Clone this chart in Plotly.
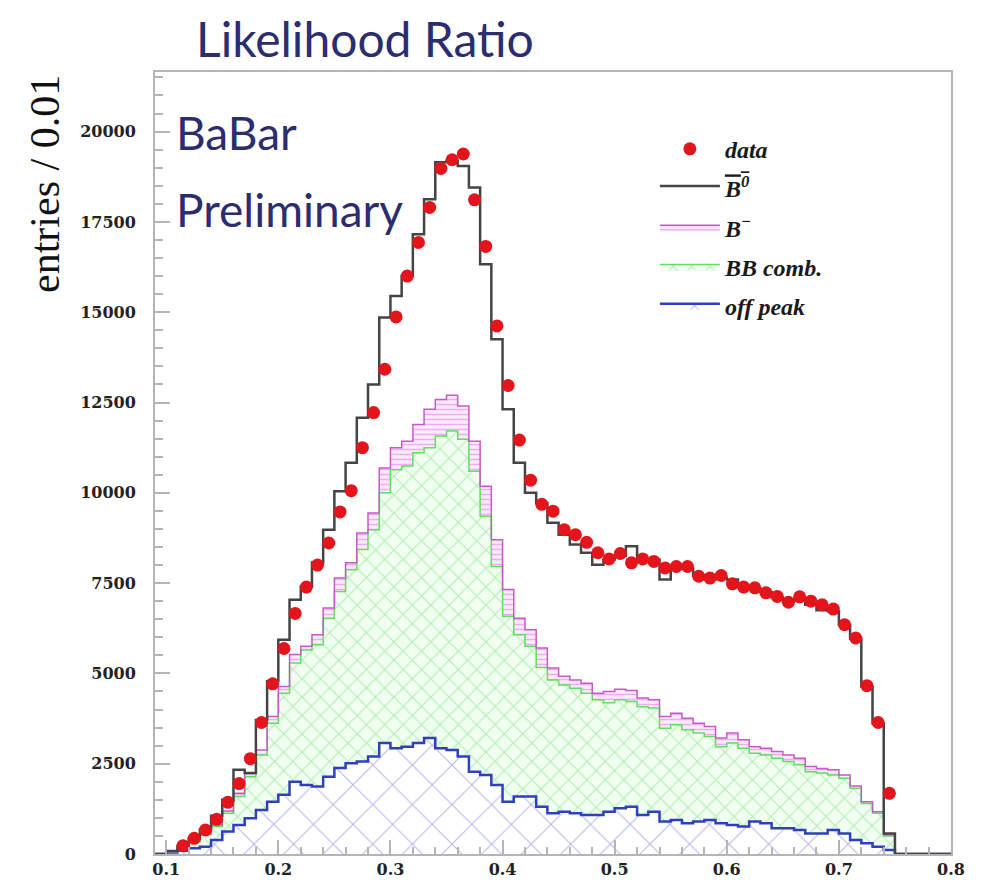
import numpy as np
import plotly.graph_objects as go

# Histogram binning: 0.01 wide bins, filled range 0.10 - 0.75
bin_low = np.round(np.arange(0.10, 0.7501, 0.01)[:65], 2)

# Stacked MC components (cumulative top of each layer, entries per bin)
off_peak = [40, 90, 160, 200, 390, 620, 800, 990, 1220, 1450,
            1640, 2000, 1910, 1870, 2140, 2380, 2510, 2560, 2700, 3070,
            2930, 2970, 3070, 3210, 2930, 2880, 2700, 2280, 2190, 1910,
            1450, 1590, 1590, 1310, 1130, 1170, 1130, 1080, 1080, 1170,
            1270, 1310, 1080, 1170, 900, 940, 850, 900, 940, 850,
            800, 760, 900, 850, 710, 710, 665, 570, 570, 665,
            570, 390, 300, 200, 110]

bb_comb_top = [60, 160, 340, 530, 760, 1130, 1590, 2140, 2740, 3620,
               4450, 5290, 5650, 5790, 6530, 7270, 7870, 8430, 8980, 10000,
               10640, 10740, 11110, 11250, 11570, 11710, 11480, 10600, 9350, 7960,
               6580, 6070, 5750, 5160, 4820, 4680, 4590, 4450, 4270, 4190,
               4270, 4220, 4080, 4040, 3480, 3580, 3440, 3350, 3250, 2970,
               3070, 2930, 2790, 2740, 2650, 2560, 2470, 2280, 2240, 2190,
               2100, 1820, 1400, 1130, 500]

b_minus_top = [60, 170, 360, 560, 800, 1190, 1680, 2240, 2880, 3810,
               4640, 5520, 5750, 6070, 6810, 7640, 8060, 8890, 9440, 10690,
               11250, 11430, 11890, 12310, 12580, 12700, 12400, 11430, 10180, 8700,
               7320, 6530, 6210, 5700, 5150, 4920, 4820, 4730, 4450, 4500,
               4560, 4530, 4320, 4270, 3810, 3900, 3760, 3620, 3530, 3210,
               3350, 3160, 2970, 2930, 2840, 2740, 2650, 2420, 2370, 2330,
               2190, 1880, 1450, 1170, 530]

b0bar_top = [80, 220, 420, 680, 1060, 1500, 2330, 2240, 3710, 4780,
             5930, 7040, 7400, 8070, 8980, 10040, 10830, 12080, 13000, 14850,
             15450, 16000, 17160, 18130, 19150, 19190, 19050, 18450, 16330, 14250,
             12310, 10830, 10000, 9720, 9170, 8840, 8570, 8340, 8010, 8150,
             8250, 8520, 8100, 8150, 7600, 7950, 7900, 7700, 7600, 7650,
             7600, 7400, 7350, 7250, 7100, 7000, 7050, 6900, 6750, 6720,
             6350, 5960, 4640, 3620, 570]

# Data: bin centres 0.115 ... 0.745
data_y = [230, 435, 665, 960, 1430, 1950, 2640, 3640, 4710,
          5690, 6660, 7390, 8000, 8610, 9470, 10060, 11250, 12220, 13420,
          14870, 16000, 16930, 17900, 18980, 19220, 19380, 18110, 16820, 14620,
          12970, 11460, 10350, 9680, 9490, 8980, 8840, 8630, 8340, 8170,
          8320, 8060, 8170, 8100, 7920, 7960, 7960, 7690, 7640, 7710,
          7480, 7390, 7370, 7230, 7130, 6970, 7120, 7000, 6900, 6780,
          6350, 5980, 4660, 3640, 1680]
data_x = np.round(bin_low[1:] + 0.005, 3)

x_ticks = [0.1, 0.2, 0.3, 0.4, 0.5, 0.6, 0.7, 0.8]
y_ticks = [0, 2500, 5000, 7500, 10000, 12500, 15000, 17500, 20000]
y_tick_text = [str(v) for v in y_ticks]

# Step outline: empty bin below 0.10, empty bins from 0.75 to 0.80
step_x = [0.09] + list(bin_low) + [0.75, 0.80]


def steps(vals):
    return [0] + list(vals) + [0, 0]


serif = "Liberation Serif"
hand = "Lato"
ink = "#2b2d6e"

fig = go.Figure()

fig.add_trace(go.Scatter(
    x=step_x, y=steps(off_peak), mode="lines", line_shape="hv",
    line=dict(color="#2f3fbf", width=2.5),
    fill="tozeroy", fillcolor="white",
    fillpattern=dict(shape="x", size=28, solidity=0.07,
                     fgcolor="#6a6dd2", bgcolor="white"),
    name="<b><i>off peak</i></b>", legendrank=5, legendgroup="e",
))
fig.add_trace(go.Scatter(
    x=step_x, y=steps(bb_comb_top), mode="lines", line_shape="hv",
    line=dict(color="#5fe05f", width=1.5),
    fill="tonexty", fillcolor="#f0fff0",
    fillpattern=dict(shape="x", size=13, solidity=0.16,
                     fgcolor="#72d872", bgcolor="#f1fff1"),
    name="<b><i>BB comb.</i></b>", legendrank=4, legendgroup="d",
))
fig.add_trace(go.Scatter(
    x=step_x, y=steps(b_minus_top), mode="lines", line_shape="hv",
    line=dict(color="#c55ac8", width=1.5),
    fill="tonexty", fillcolor="#fbe6fb",
    fillpattern=dict(shape="-", size=5, solidity=0.3,
                     fgcolor="#e070e6", bgcolor="#fcebfc"),
    name="<b><i>B<sup>\u2212</sup></i></b>", legendrank=3, legendgroup="c",
))
fig.add_trace(go.Scatter(
    x=step_x, y=steps(b0bar_top), mode="lines", line_shape="hv",
    line=dict(color="#444444", width=2.5),
    fill="tonexty", fillcolor="rgba(255,255,255,0)",
    name="<b><i><span style='text-decoration:overline'>B<sup>0</sup></span></i></b>",
    legendrank=2, legendgroup="b",
))
fig.add_trace(go.Scatter(
    x=data_x, y=data_y, mode="markers",
    marker=dict(color="#e3141b", size=13, symbol="circle"),
    name="<b><i>data</i></b>", legendrank=1, legendgroup="a",
))

fig.add_annotation(text="entries / 0.01", textangle=-90, showarrow=False,
                   xref="paper", yref="paper", x=-0.138, y=0.857,
                   xanchor="center", yanchor="middle",
                   font=dict(family=serif, size=42, color="#111"))
fig.add_annotation(text="BaBar", showarrow=False, xref="paper", yref="paper",
                   x=0.024, y=0.922, xanchor="left", yanchor="middle",
                   font=dict(family=hand, size=46, color=ink))
fig.add_annotation(text="Preliminary", showarrow=False, xref="paper", yref="paper",
                   x=0.024, y=0.824, xanchor="left", yanchor="middle",
                   font=dict(family=hand, size=46, color=ink))

axis_common = dict(
    showgrid=False, zeroline=False, showline=True, linecolor="#b5b5b5",
    linewidth=2, mirror=True, ticks="inside", tickcolor="#b5b5b5",
    tickwidth=1.5, automargin=False,
    tickfont=dict(family="DejaVu Serif", size=16, weight="bold", color="#222"),
)

fig.update_layout(
    width=981, height=880,
    margin=dict(l=155, r=30, t=72, b=26),
    paper_bgcolor="white", plot_bgcolor="white",
    title=dict(text="Likelihood Ratio", x=0.372, y=0.954,
               xanchor="center", yanchor="middle", xref="container", yref="container",
               font=dict(family=hand, size=48, color=ink)),
    xaxis=dict(range=[0.09, 0.80], tickvals=x_ticks, ticklen=14,
               ticklabelstandoff=0,
               minor=dict(dtick=0.02, tick0=0.1, ticks="inside", ticklen=7,
                          tickcolor="#b5b5b5"),
               **axis_common),
    yaxis=dict(range=[0, 21650], tickvals=y_ticks, ticktext=y_tick_text,
               ticklen=15, ticklabelstandoff=14,
               minor=dict(dtick=500, tick0=0, ticks="inside", ticklen=8,
                          tickcolor="#b5b5b5"),
               **axis_common),
    legend=dict(x=0.628, y=0.93, xanchor="left", yanchor="top",
                bgcolor="rgba(0,0,0,0)", tracegroupgap=5, itemwidth=60,
                font=dict(family=serif, size=24, color="#1a1a1a"),
                traceorder="grouped"),
    showlegend=True,
)

fig.write_html("out.html")
